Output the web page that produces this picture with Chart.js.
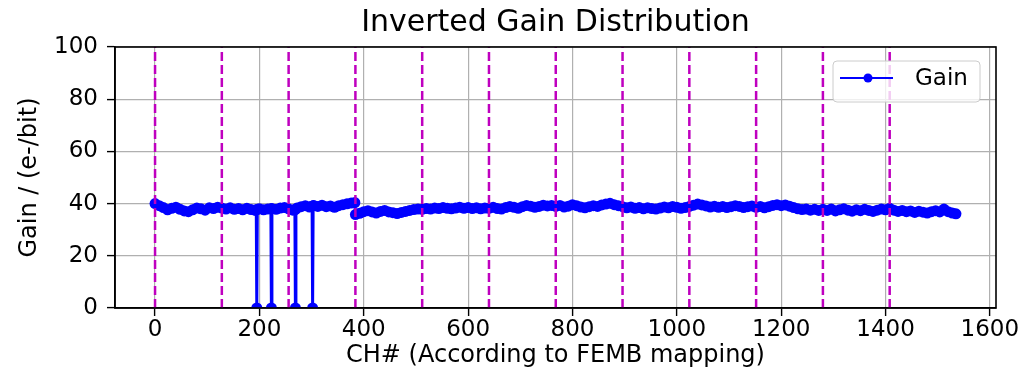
<!DOCTYPE html>
<html>
<head>
<meta charset="utf-8">
<script src="https://cdn.jsdelivr.net/npm/chart.js"></script>
<style>
  html, body { margin: 0; padding: 0; background: #fff; }
  #wrap { width: 1023px; height: 378px; }
</style>
</head>
<body>
<div id="wrap"><canvas id="gainChart" width="1023" height="378"></canvas></div>
<script>
// channels sampled along the trace (dead channels keep their neighbours so the spike stays narrow)
const channels = [
  0, 8, 16, 24, 32, 40, 48, 56, 64, 72, 80, 88, 96, 104, 112, 120,
  128, 136, 144, 152, 160, 168, 176, 184, 192, 194, 195, 196, 200, 208, 216, 222, 223, 224, 232, 240, 248,
  256, 264, 268, 269, 270, 272, 280, 288, 296, 301, 302, 303, 304, 312, 320, 328, 336, 344, 352, 360, 368, 376, 383,
  384, 392, 400, 408, 416, 424, 432, 440, 448, 456, 464, 472, 480, 488, 496, 504,
  512, 520, 528, 536, 544, 552, 560, 568, 576, 584, 592, 600, 608, 616, 624, 632,
  640, 648, 656, 664, 672, 680, 688, 696, 704, 712, 720, 728, 736, 744, 752, 760,
  768, 776, 784, 792, 800, 808, 816, 824, 832, 840, 848, 856, 864, 872, 880, 888,
  896, 904, 912, 920, 928, 936, 944, 952, 960, 968, 976, 984, 992, 1000, 1008, 1016,
  1024, 1032, 1040, 1048, 1056, 1064, 1072, 1080, 1088, 1096, 1104, 1112, 1120, 1128, 1136, 1144,
  1152, 1160, 1168, 1176, 1184, 1192, 1200, 1208, 1216, 1224, 1232, 1240, 1248, 1256, 1264, 1272,
  1280, 1288, 1296, 1304, 1312, 1320, 1328, 1336, 1344, 1352, 1360, 1368, 1376, 1384, 1392, 1400,
  1408, 1416, 1424, 1432, 1440, 1448, 1456, 1464, 1472, 1480, 1488, 1496, 1504, 1512, 1520, 1528, 1535
];

// inverted gain in e-/bit
const gain = [
  40.0, 39.2, 38.5, 37.6, 38.2, 38.6, 37.8, 37.2, 36.9, 37.6, 38.3, 38.0, 37.5, 38.4, 38.1, 38.6,
  38.3, 37.9, 38.4, 37.8, 38.1, 37.6, 38.2, 37.7, 37.4, 37.6, 0, 37.8, 38.0, 37.6, 37.9, 38.0, 0, 38.1, 37.8, 38.3, 38.5,
  38.0, 37.5, 37.6, 0, 37.9, 38.3, 38.8, 39.2, 38.7, 39.0, 0, 39.2, 39.3, 38.9, 39.4, 38.8, 39.1, 38.6, 39.2, 39.6, 39.9, 40.2, 40.4,
  35.8, 36.3, 36.9, 37.3, 36.8, 36.4, 37.0, 37.4, 36.8, 36.5, 36.2, 36.6, 37.0, 37.4, 37.7, 37.9,
  37.8, 38.1, 37.9, 38.3, 38.1, 38.5, 38.2, 38.0, 38.3, 38.6, 38.2, 38.5, 38.1, 38.4, 38.0, 38.3,
  38.2, 38.6, 38.1, 37.9, 38.5, 38.9, 38.6, 38.2, 38.8, 39.3, 39.0, 38.6, 38.9, 39.4, 39.1, 39.3,
  38.9, 39.3, 38.7, 39.0, 39.6, 39.2, 38.7, 38.4, 38.8, 39.2, 38.9, 39.5, 39.8, 40.1, 39.6, 39.2,
  38.8, 38.4, 38.7, 38.2, 38.5, 38.0, 38.4, 38.1, 37.9, 38.3, 38.7, 38.4, 38.9, 38.6, 38.2, 38.5,
  38.9, 39.4, 39.8, 39.5, 39.1, 38.7, 39.0, 38.6, 38.9, 38.5, 38.8, 39.2, 38.9, 38.5, 38.8, 39.1,
  38.6, 38.9, 38.4, 38.8, 39.3, 39.6, 39.2, 39.5, 39.0, 38.5, 38.0, 37.7, 37.9, 37.5, 37.8, 37.4,
  37.8, 37.4, 37.9, 37.2, 37.6, 38.0, 37.5, 37.1, 37.6, 37.3, 37.8, 37.4, 37.0, 37.5, 37.9, 37.6,
  38.2, 37.5, 37.0, 37.4, 36.9, 37.2, 36.6, 37.1, 36.7, 36.4, 36.9, 37.3, 36.8, 37.9, 36.9, 36.4, 36.1
];

// FEMB boundaries (dashed magenta lines)
const fembBoundaries = [0, 128, 256, 384, 512, 640, 768, 896, 1024, 1152, 1280, 1408];

const xRange = [-76.75, 1611.75];
const yRange = [0, 100];
const chartTitle = 'Inverted Gain Distribution';

Chart.defaults.font.family = "'DejaVu Sans', sans-serif";
Chart.defaults.color = '#000';

const gainData = channels.map((c, i) => ({ x: c, y: gain[i] }));

const boundarySets = fembBoundaries.map(b => ({
    label: 'femb' + b,
    data: [{ x: b, y: yRange[0] }, { x: b, y: yRange[1] }],
    borderColor: 'rgb(191,0,191)',
    borderWidth: 2.5,
    borderDash: [9, 4],
    pointRadius: 0,
    order: 0
}));

// title centred over the axes + top/right spines like matplotlib
const frame = {
    id: 'frame',
    afterDatasetsDraw(chart) {
        const { ctx, chartArea: a } = chart;
        ctx.save();
        ctx.strokeStyle = '#000';
        ctx.lineWidth = 1.6;
        ctx.strokeRect(a.left, a.top, a.right - a.left, a.bottom - a.top);
        ctx.fillStyle = '#000';
        ctx.font = "30px 'DejaVu Sans'";
        ctx.textAlign = 'center';
        ctx.textBaseline = 'middle';
        ctx.fillText(chartTitle, (a.left + a.right) / 2, a.top - 24);
        ctx.restore();
    }
};

// legend box in the upper right corner of the axes
const legendBox = {
    id: 'legendBox',
    afterDraw(chart) {
        const { ctx, chartArea: a } = chart;
        const ds = chart.data.datasets.find(d => d.label === 'Gain');
        const w = 147, h = 41;
        const x = a.right - 16 - w, y = a.top + 14;
        ctx.save();
        ctx.beginPath();
        ctx.roundRect(x, y, w, h, 4);
        ctx.fillStyle = 'rgba(255,255,255,0.8)';
        ctx.fill();
        ctx.strokeStyle = '#cccccc';
        ctx.lineWidth = 1;
        ctx.stroke();
        const ly = y + 17;
        ctx.beginPath();
        ctx.moveTo(x + 7, ly);
        ctx.lineTo(x + 60, ly);
        ctx.strokeStyle = ds.borderColor;
        ctx.lineWidth = 2;
        ctx.stroke();
        ctx.beginPath();
        ctx.arc(x + 35, ly, 4.5, 0, Math.PI * 2);
        ctx.fillStyle = ds.pointBackgroundColor;
        ctx.fill();
        ctx.fillStyle = '#000';
        ctx.font = "23px 'DejaVu Sans'";
        ctx.textBaseline = 'middle';
        ctx.fillText(ds.label, x + 82, ly + 1);
        ctx.restore();
    }
};

const plainNumber = v => String(v);

new Chart(document.getElementById('gainChart').getContext('2d'), {
    type: 'line',
    data: {
        datasets: [
            ...boundarySets,
            {
                label: 'Gain',
                data: gainData,
                borderColor: '#0000ff',
                borderWidth: 3,
                pointRadius: 5.5,
                pointBackgroundColor: '#0000ff',
                pointBorderWidth: 0,
                tension: 0,
                order: 1
            }
        ]
    },
    options: {
        responsive: false,
        animation: false,
        layout: { padding: { left: 0, right: 27, top: 47, bottom: 0 } },
        plugins: {
            legend: { display: false },
            tooltip: { enabled: false },
            title: { display: false }
        },
        scales: {
            x: {
                type: 'linear',
                min: xRange[0],
                max: xRange[1],
                afterFit: s => { s.height = 70; },
                ticks: { stepSize: 200, includeBounds: false, font: { size: 23 }, padding: 0, maxRotation: 0, color: '#000', callback: plainNumber },
                grid: { color: '#b0b0b0', lineWidth: 1.2, tickLength: 8, tickColor: '#000', tickWidth: 1.4 },
                border: { color: '#000', width: 1.6 },
                title: { display: true, text: 'CH# (According to FEMB mapping)', font: { size: 24 }, color: '#000', padding: { top: 0, bottom: 8 } }
            },
            y: {
                min: yRange[0],
                max: yRange[1],
                afterFit: s => { s.width = 115; },
                ticks: { stepSize: 20, font: { size: 23 }, padding: 9, color: '#000', callback: plainNumber },
                grid: { color: '#b0b0b0', lineWidth: 1.2, tickLength: 8, tickColor: '#000', tickWidth: 1.4 },
                border: { color: '#000', width: 1.6 },
                title: { display: true, text: 'Gain / (e-/bit)', font: { size: 24 }, color: '#000', padding: { top: 15, bottom: 0 } }
            }
        }
    },
    plugins: [frame, legendBox]
});
</script>
</body>
</html>
